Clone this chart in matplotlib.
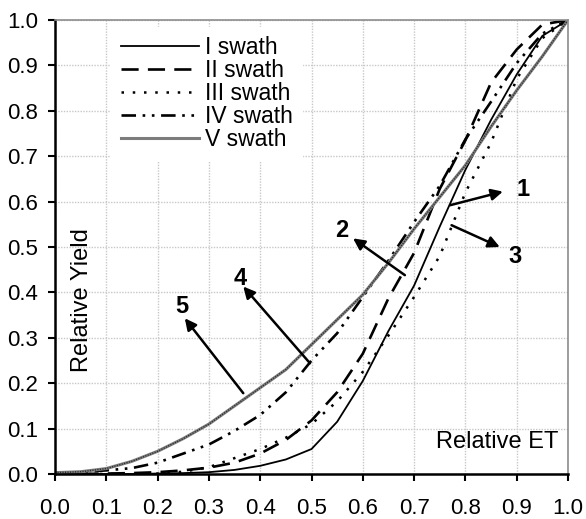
import matplotlib
matplotlib.use("Agg")
import matplotlib.pyplot as plt

plt.rcParams['font.family'] = ['Liberation Sans', 'DejaVu Sans']

# Relative ET values at which the yield curves are sampled
et = [0.0, 0.05, 0.1, 0.15, 0.2, 0.25, 0.3, 0.35, 0.4, 0.45, 0.5,
      0.55, 0.6, 0.65, 0.7, 0.75, 0.8, 0.85, 0.9, 0.95, 1.0]

# Relative yield for each swath
swath_1 = [0.0, 0.0, 0.0, 0.0, 0.001, 0.002, 0.004, 0.009, 0.018, 0.032, 0.055,
           0.115, 0.205, 0.315, 0.415, 0.545, 0.67, 0.78, 0.88, 0.965, 1.0]
swath_2 = [0.0, 0.0, 0.001, 0.002, 0.004, 0.008, 0.014, 0.025, 0.045, 0.075, 0.118,
           0.18, 0.265, 0.387, 0.487, 0.628, 0.735, 0.862, 0.935, 0.99, 1.0]
swath_3 = [0.0, 0.0, 0.0, 0.0, 0.001, 0.005, 0.015, 0.035, 0.055, 0.08, 0.11,
           0.16, 0.225, 0.305, 0.39, 0.48, 0.62, 0.73, 0.87, 0.96, 1.0]
swath_4 = [0.002, 0.004, 0.008, 0.013, 0.025, 0.045, 0.065, 0.095, 0.13, 0.18, 0.25,
           0.31, 0.39, 0.47, 0.555, 0.635, 0.737, 0.82, 0.905, 0.97, 1.0]
swath_5 = [0.003, 0.005, 0.012, 0.028, 0.05, 0.078, 0.11, 0.15, 0.19, 0.23, 0.285,
           0.34, 0.395, 0.465, 0.54, 0.61, 0.68, 0.765, 0.845, 0.92, 1.0]

legend_labels = ["I swath", "II swath", "III swath", "IV swath", "V swath"]
tick_values = [0.0, 0.1, 0.2, 0.3, 0.4, 0.5, 0.6, 0.7, 0.8, 0.9, 1.0]
tick_labels = ["0.0", "0.1", "0.2", "0.3", "0.4", "0.5", "0.6", "0.7", "0.8", "0.9", "1.0"]

# Numbered call-outs: label, arrow tail, arrow head, label position
callouts = [
    ("1", (0.770, 0.592), (0.873, 0.622), (0.912, 0.626)),
    ("3", (0.773, 0.548), (0.867, 0.500), (0.897, 0.479)),
    ("2", (0.682, 0.438), (0.581, 0.519), (0.559, 0.537)),
    ("4", (0.497, 0.244), (0.367, 0.413), (0.361, 0.431)),
    ("5", (0.367, 0.178), (0.253, 0.343), (0.247, 0.368)),
]

fig = plt.figure(figsize=(5.86, 5.19), dpi=100)
ax = fig.add_axes([55 / 586, 1 - 474 / 519, 513 / 586, 454 / 519])

ax.plot(et, swath_1, color="black", lw=1.3, ls="-", label=legend_labels[0])
ax.plot(et, swath_2, color="black", lw=1.9, ls=(0, (6.5, 3.5)), label=legend_labels[1])
ax.plot(et, swath_3, color="black", lw=1.8, ls=(0, (1, 3.5)), label=legend_labels[2])
ax.plot(et, swath_4, color="black", lw=1.9,
        ls=(0, (5.5, 2.5, 1, 2.5, 1, 2.5)), label=legend_labels[3])
ax.plot(et, swath_5, color="#7c7c7c", lw=2.2, ls="-", label=legend_labels[4])
ax.plot(et, swath_5, color="#2a2a2a", lw=1.0, ls=(0, (0.8, 1.0)))

ax.set_xlim(0, 1)
ax.set_ylim(0, 1)
ax.set_xticks(tick_values)
ax.set_xticklabels(tick_labels)
ax.set_yticks(tick_values)
ax.set_yticklabels(tick_labels)
ax.tick_params(axis="both", direction="out", length=5, width=1.5, labelsize=16,
               colors="black")
ax.tick_params(axis="x", pad=12)
ax.tick_params(axis="y", pad=7)

ax.grid(True, color="#c8c8c8", lw=1.0, ls=(0, (1, 1)))
ax.set_axisbelow(True)

for side in ("left", "bottom"):
    ax.spines[side].set_color("black")
    ax.spines[side].set_linewidth(1.8)
for side in ("top", "right"):
    ax.spines[side].set_color("#8c8c8c")
    ax.spines[side].set_linewidth(1.2)

handles, labels = ax.get_legend_handles_labels()
leg = ax.legend(handles, labels, loc="upper left", bbox_to_anchor=(0.11, 0.985),
                fontsize=16.5, handlelength=3.4, handletextpad=0.3,
                labelspacing=0.0, borderpad=0.4, borderaxespad=0.0,
                frameon=True, fancybox=False)
leg.get_frame().set_facecolor("white")
leg.get_frame().set_edgecolor("white")
leg.get_frame().set_alpha(1.0)

ax.text(0.052, 0.383, "Relative Yield", rotation=90, fontsize=17,
        ha="center", va="center", transform=ax.transAxes)
ax.text(0.862, 0.071, "Relative ET", fontsize=17,
        ha="center", va="center", transform=ax.transAxes)

for label, tail, head, pos in callouts:
    ax.annotate("", xy=head, xytext=tail,
                arrowprops=dict(arrowstyle="-|>", color="black", lw=1.8,
                                mutation_scale=17, shrinkA=0, shrinkB=0))
    ax.text(pos[0], pos[1], label, fontsize=17, fontweight="bold",
            ha="center", va="center")

fig.savefig("out.png", dpi=100)
